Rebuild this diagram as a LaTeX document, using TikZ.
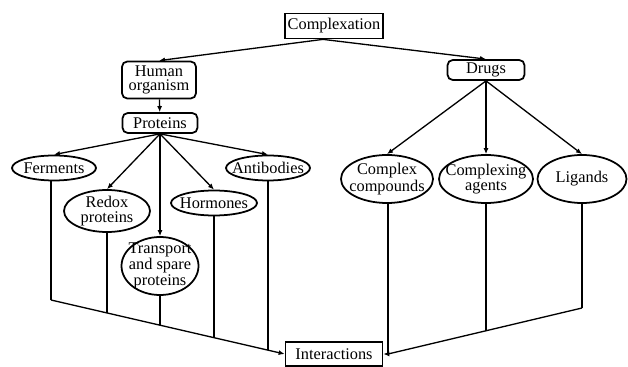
\documentclass[tikz,border=0pt]{standalone}
\usepackage{fontspec}
\setmainfont{Liberation Serif}
\usepackage{tikz}
\usetikzlibrary{arrows.meta,calc,shapes.geometric,intersections}
\tikzset{
  box/.style  ={draw, rectangle, line width=1pt, align=center, inner sep=1pt, font=\fontsize{9.3}{8.1}\selectfont},
  rbox/.style ={box, rounded corners=3pt},
  oval/.style ={draw, ellipse, line width=1pt, align=center, inner sep=-5pt, font=\fontsize{9.3}{8.1}\selectfont},
  arr/.style  ={-{Latex[length=1.2mm,width=1mm]}, line width=0.75pt},
  ln/.style   ={line width=0.75pt},
}
\begin{document}
\begin{tikzpicture}[x=0.02cm,y=-0.02cm]
  \useasboundingbox (0,0) rectangle (628,367);
  % top level
  \node[box, minimum width=98*0.02cm, minimum height=25*0.02cm] (cplx) at (334,26) {Complexation};
  \node[rbox, minimum width=74*0.02cm, minimum height=37*0.02cm] (human) at (159,80) {Human\\organism};
  \node[rbox, minimum width=75*0.02cm, minimum height=20*0.02cm] (prot) at (160,123) {Proteins};
  \node[rbox, minimum width=77*0.02cm, minimum height=20*0.02cm] (drugs) at (486,70) {Drugs};
  % protein classes
  \node[oval, minimum width=84*0.02cm, minimum height=25*0.02cm] (ferm) at (54,168) {Ferments};
  \node[oval, minimum width=84*0.02cm, minimum height=25*0.02cm] (anti) at (268,168) {Antibodies};
  \node[oval, minimum width=86*0.02cm, minimum height=42*0.02cm] (redox) at (107,211) {Redox\\proteins};
  \node[oval, minimum width=86*0.02cm, minimum height=25*0.02cm] (horm) at (214,203) {Hormones};
  \node[oval, minimum width=77*0.02cm, minimum height=58*0.02cm] (trans) at (160,266) {Transport\\and spare\\proteins};
  % drug classes
  \node[oval, minimum width=92*0.02cm, minimum height=48*0.02cm] (comp) at (387,179) {Complex\\compounds};
  \node[oval, minimum width=94*0.02cm, minimum height=48*0.02cm] (agent) at (486,179) {Complexing\\agents};
  \node[oval, minimum width=89*0.02cm, minimum height=48*0.02cm] (lig) at (582,179) {Ligands};
  \node[box, minimum width=97*0.02cm, minimum height=24*0.02cm] (inter) at (334,354) {Interactions};

  % tree arrows
  \coordinate (cs) at ($(cplx.south)+(-11,0)$);
  \draw[arr] (cs) -- (human.north);
  \draw[arr] (cs) -- (drugs.north);
  \draw[arr] (human) -- (prot);
  \foreach \n in {ferm,redox,trans,horm,anti}
    \draw[arr] (prot.south) -- (\n.north);
  \foreach \n in {comp,agent,lig}
    \draw[arr] (drugs.south) -- (\n.north);

  % collecting lines
  \coordinate (lk) at ($(ferm.south |- 0,300)+(-3,0)$);
  \draw[ln] ($(ferm.south)+(-3,0)$) -- (lk);
  \draw[arr, name path=lslant] (lk) -- (inter.west);
  \foreach \n in {redox,trans,horm,anti} {
    \path[name path=v] (\n.south) -- ++(0,200);
    \draw[ln, name intersections={of=v and lslant}] (\n.south) -- (intersection-1);
  }
  \coordinate (rk) at (lig.south |- 0,308);
  \coordinate (ck) at ($(comp.south |- inter.east)+(1,0)$);
  \draw[ln] (lig.south) -- (rk);
  \draw[ln, name path=rslant] (rk) -- (ck);
  \draw[ln] (comp.south -| ck) -- (ck);
  \draw[arr] (ck) -- (inter.east);
  \path[name path=v] (agent.south) -- ++(0,200);
  \draw[ln, name intersections={of=v and rslant}] (agent.south) -- (intersection-1);
\end{tikzpicture}
\end{document}
